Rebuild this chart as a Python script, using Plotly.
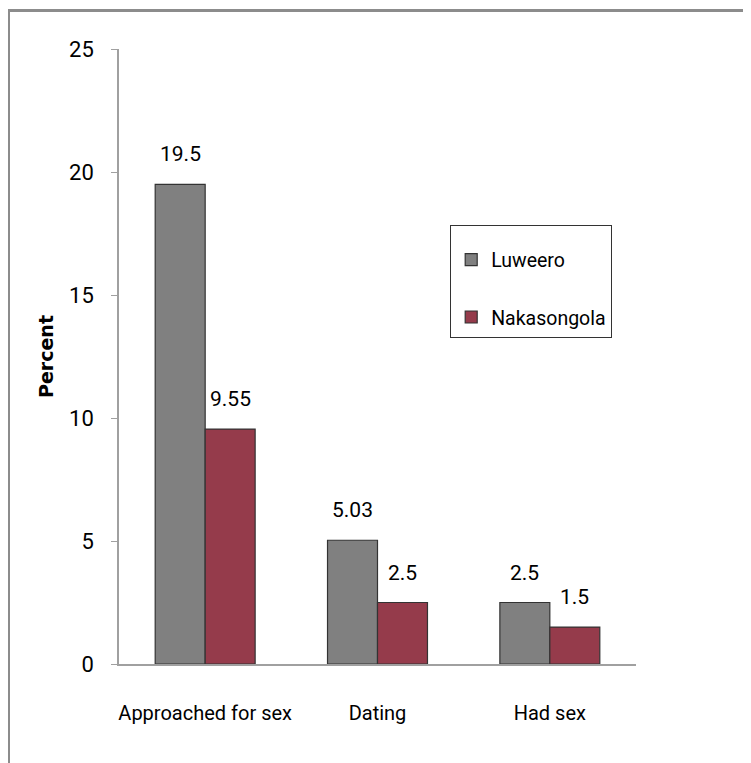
import plotly.graph_objects as go

categories = ["Approached for sex", "Dating", "Had sex"]
luweero = [19.5, 5.03, 2.5]
nakasongola = [9.55, 2.5, 1.5]
y_ticks = [0, 5, 10, 15, 20, 25]

FAM = "Roboto, Liberation Sans, sans-serif"
FS = 20
BARGAP = 0.42

def font(size=FS):
    return dict(family=FAM, size=size, color="#000000")

fig = go.Figure()
fig.add_trace(go.Bar(
    name="Luweero", x=categories, y=luweero,
    marker=dict(color="#808080", line=dict(color="#333333", width=1.2)),
    legendgroup="a",
))
fig.add_trace(go.Bar(
    name="Nakasongola", x=categories, y=nakasongola,
    marker=dict(color="#953B4B", line=dict(color="#333333", width=1.2)),
    legendgroup="b",
))

# value labels, placed above each bar via the category axis
half = (1 - BARGAP) / 4
annotations = []
for i, (a, b) in enumerate(zip(luweero, nakasongola)):
    for off, v in ((-half, a), (half, b)):
        annotations.append(dict(
            x=i + off, y=v, xref="x", yref="y", text=f"{v:g}",
            showarrow=False, yanchor="bottom", yshift=16, font=font(21),
        ))

L, T, W, H = 111, 41, 517, 615
fig.update_layout(
    width=751, height=763,
    margin=dict(l=L, r=751 - L - W, t=T, b=763 - T - H),
    paper_bgcolor="white", plot_bgcolor="white",
    barmode="group", bargap=BARGAP, bargroupgap=0,
    font=font(),
    showlegend=True,
    annotations=annotations,
    legend=dict(
        x=(450 - 8 - L) / W, y=(T + H - (225 - 8)) / H, xanchor="left", yanchor="top",
        bordercolor="#333333", borderwidth=1.2, bgcolor="white",
        font=font(19.5), tracegroupgap=29, itemwidth=30,
        title=dict(text=" ", font=dict(size=11)),
    ),
    xaxis=dict(
        showline=True, linecolor="#a0a0a0", linewidth=2,
        ticks="", showgrid=False, tickfont=font(20),
        ticklabelstandoff=30,
    ),
    yaxis=dict(
        range=[0, 25], tickvals=y_ticks, showline=True, linecolor="#a0a0a0", linewidth=1.5,
        ticks="outside", ticklen=6, tickcolor="#a0a0a0", showgrid=False, zeroline=False,
        tickfont=font(22), ticklabelstandoff=13,
        title=dict(text="<b>Percent</b>",
                   font=dict(family="DejaVu Sans, sans-serif", size=19, color="#000000"),
                   standoff=10),
    ),
    shapes=[dict(
        type="rect", xref="paper", yref="paper",
        x0=(0.5 - L) / W, x1=1.4, y0=-0.4, y1=(T + H - 2.5) / H,
        line=dict(color="#8c8c8c", width=3), layer="below",
    )],
)

fig.write_html("out.html")
